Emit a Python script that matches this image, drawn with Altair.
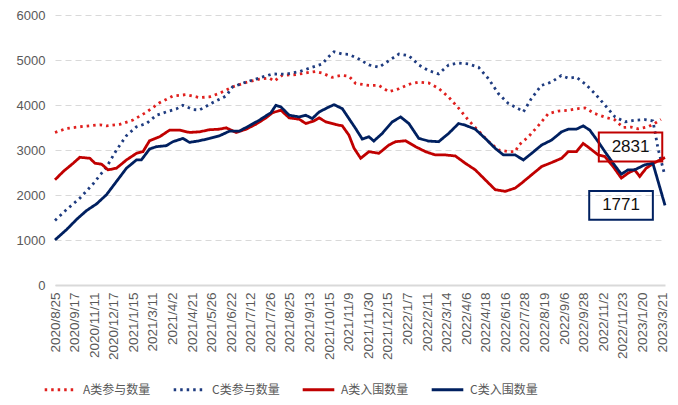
import altair as alt
import pandas as pd

# x-axis category labels (one every tick position)
labels = ["2020/8/25", "2020/9/17", "2020/11/11", "2020/12/17", "2021/1/15", "2021/3/11",
          "2021/4/2", "2021/4/21", "2021/5/26", "2021/6/22", "2021/7/12", "2021/7/26",
          "2021/8/25", "2021/9/13", "2021/10/15", "2021/11/9", "2021/11/30", "2021/12/15",
          "2022/1/7", "2022/2/11", "2022/3/14", "2022/4/6", "2022/4/18", "2022/6/16",
          "2022/7/28", "2022/8/19", "2022/9/6", "2022/9/28", "2022/11/2", "2022/11/23",
          "2023/1/20", "2023/3/21"]

series_names = ["A类参与数量", "C类参与数量", "A类入围数量", "C类入围数量"]

# positions are in category-label units (0 = 2020/8/25)
a_part_x = [0, 0.60, 1.44, 2.29, 2.63, 3.31, 3.98, 4.67, 5.34, 6.02, 6.70, 7.38, 7.89, 8.40,
            9.06, 9.76, 10.43, 10.94, 11.20, 11.60, 12.30, 12.98, 13.32, 13.64, 14.15, 14.66,
            15.01, 15.35, 16.03, 16.54, 17.05, 17.56, 18.07, 18.58, 19.08, 19.59, 20.10, 20.61,
            21.12, 21.63, 22.14, 22.65, 23.16, 23.51, 23.66, 24.17, 24.68, 25.19, 25.70, 26.21,
            26.72, 27.06, 27.57, 28.08, 28.59, 29.01, 29.41, 29.77, 30.28, 30.62, 30.94]
a_part_y = [3390, 3480, 3525, 3560, 3535, 3570, 3665, 3840, 4050, 4200, 4230, 4165, 4180, 4260,
            4400, 4500, 4575, 4600, 4530, 4660, 4675, 4725, 4745, 4710, 4615, 4660,
            4640, 4480, 4434, 4434, 4295, 4360, 4460, 4510, 4490, 4370, 4176, 3930,
            3660, 3420, 3190, 3000, 2965, 2965, 3100, 3290, 3540, 3809, 3865, 3882,
            3920, 3934, 3809, 3730, 3670, 3500, 3510, 3470, 3515, 3590, 3680]

c_part_x = [0, 0.60, 1.27, 1.95, 2.63, 3.14, 3.65, 4.16, 4.67, 5.18, 5.68, 6.19, 6.53, 7.04,
            7.38, 8.04, 8.74, 9.06, 9.76, 10.43, 11.11, 11.79, 12.47, 13.14, 13.64, 13.99,
            14.25, 14.66, 15.01, 15.52, 16.03, 16.54, 17.05, 17.56, 18.07, 18.58, 19.08, 19.59,
            20.10, 20.61, 21.12, 21.63, 22.14, 22.65, 23.16, 23.66, 23.92, 24.32, 24.83, 25.34,
            25.85, 26.21, 26.62, 27.07, 27.58, 28.09, 28.60, 29.11, 29.62, 30.13, 30.53, 30.64,
            30.79, 31.13]
c_part_y = [1435, 1680, 1930, 2250, 2620, 3000, 3320, 3515, 3590, 3772, 3846, 3910, 3993, 3900,
            3890, 4050, 4200, 4400, 4510, 4600, 4690, 4685, 4740, 4840, 4912, 5080,
            5184, 5132, 5125, 5022, 4890, 4838, 4985, 5132, 5096, 4890, 4765, 4691,
            4890, 4934, 4912, 4838, 4581, 4250, 4029, 3919, 3846, 4140, 4434, 4507,
            4654, 4596, 4618, 4471, 4250, 3993, 3735, 3625, 3662, 3676, 3647, 3404,
            3037, 2455]

a_entry_x = [0, 0.42, 0.93, 1.27, 1.78, 2.04, 2.38, 2.71, 3.14, 3.65, 4.16, 4.49, 4.83, 5.34,
             5.85, 6.36, 6.87, 7.38, 7.89, 8.40, 8.74, 9.25, 9.76, 10.26, 10.77, 11.11, 11.54,
             11.96, 12.47, 12.81, 13.23, 13.49, 13.83, 14.34, 14.67, 15.01, 15.27, 15.61, 16.03,
             16.54, 17.05, 17.39, 17.90, 18.41, 18.92, 19.42, 19.93, 20.44, 20.95, 21.46, 21.97,
             22.48, 22.99, 23.50, 23.83, 24.34, 24.85, 25.36, 25.87, 26.21, 26.63, 26.97, 27.31,
             27.74, 28.08, 28.50, 28.92, 29.26, 29.60, 29.86, 30.19, 30.62, 31.15]
a_entry_y = [2338, 2522, 2706, 2838, 2816, 2706, 2684, 2559, 2596, 2779, 2926, 2963, 3206, 3294,
             3441, 3441, 3390, 3404, 3450, 3463, 3493, 3390, 3463, 3574, 3713, 3831, 3882,
             3713, 3684, 3588, 3647, 3713, 3625, 3566, 3537, 3330, 3040, 2816, 2963,
             2926, 3110, 3184, 3206, 3074, 2963, 2890, 2890, 2868, 2706, 2559, 2338,
             2118, 2081, 2154, 2265, 2449, 2632, 2721, 2816, 2963, 2963, 3147, 3037,
             2890, 2853, 2632, 2375, 2485, 2559, 2412, 2596, 2720, 2831]

c_entry_x = [0, 0.60, 1.10, 1.61, 2.12, 2.63, 3.14, 3.65, 4.16, 4.41, 4.83, 5.18, 5.68, 6.02,
             6.53, 6.87, 7.38, 7.89, 8.40, 8.91, 9.41, 9.92, 10.43, 11.03, 11.28, 11.54, 11.96,
             12.47, 12.81, 13.14, 13.49, 13.99, 14.25, 14.67, 15.01, 15.35, 15.69, 16.03, 16.28,
             16.71, 17.22, 17.65, 18.07, 18.58, 19.08, 19.59, 20.10, 20.61, 20.95, 21.46, 21.97,
             22.48, 22.90, 23.50, 23.92, 24.34, 24.85, 25.36, 25.87, 26.21, 26.63, 26.97, 27.31,
             27.74, 28.08, 28.50, 28.92, 29.26, 29.60, 30.11, 30.53, 31.15]
c_entry_y = [1000, 1235, 1456, 1654, 1801, 2007, 2301, 2596, 2779, 2779, 3022, 3074, 3096, 3184,
             3257, 3169, 3206, 3257, 3316, 3419, 3419, 3537, 3662, 3831, 3993, 3956, 3772,
             3735, 3772, 3699, 3846, 3956, 4007, 3919, 3699, 3478, 3243, 3294, 3199,
             3368, 3625, 3735, 3588, 3257, 3199, 3184, 3368, 3588, 3551, 3463, 3257,
             3037, 2890, 2890, 2779, 2926, 3110, 3221, 3404, 3463, 3463, 3537, 3441,
             3184, 2963, 2706, 2463, 2559, 2559, 2669, 2706, 1771]

y_ticks = [0, 1000, 2000, 3000, 4000, 5000, 6000]

# annotation boxes (data units)
ann_text = ["2831", "1771"]
ann_x1 = [27.77, 27.28]
ann_x2 = [31.01, 30.53]
ann_y1 = [2747, 1451]
ann_y2 = [3391, 2088]
ann_color = ["#C00000", "#002060"]

rows = []
for name, xs, ys in zip(series_names, [a_part_x, c_part_x, a_entry_x, c_entry_x],
                        [a_part_y, c_part_y, a_entry_y, c_entry_y]):
    for x, y in zip(xs, ys):
        rows.append({"idx": x, "value": y, "series": name})
df = pd.DataFrame(rows)

ann = pd.DataFrame({"text": ann_text, "x1": ann_x1, "x2": ann_x2,
                    "y1": ann_y1, "y2": ann_y2, "color": ann_color})

label_expr = "[" + ",".join("'%s'" % s for s in labels) + "][datum.value]"

xscale = alt.Scale(domain=[0, 31.15], nice=False, zero=False)
yscale = alt.Scale(domain=[0, 6000], nice=False)

x_axis = alt.Axis(values=list(range(len(labels))), labelExpr=label_expr, title=None,
                  labelAngle=270, labelFont="Liberation Sans", labelFontSize=13.5,
                  labelColor="#595959", labelPadding=7, labelFlush=False,
                  labelOverlap=False, labelBound=False, ticks=False, tickSize=0,
                  grid=False, domain=True, domainColor="#d9d9d9", domainWidth=2)
y_axis = alt.Axis(values=y_ticks, format="d", title=None,
                  labelFont="Liberation Sans", labelFontSize=13,
                  labelColor="#595959", labelPadding=10, ticks=False, tickSize=0,
                  domain=False, grid=True, gridColor="#d9d9d9", gridDash=[6, 4],
                  gridWidth=1)

color_scale = alt.Scale(domain=series_names,
                        range=["#E0201E", "#1F3C80", "#C00000", "#002060"])
dash_scale = alt.Scale(domain=series_names,
                       range=[[2.5, 4], [2.5, 4], [1, 0], [1, 0]])

legend = alt.Legend(title=None, orient="none", legendX=-12, legendY=357,
                    direction="horizontal", symbolType="stroke", symbolSize=1000,
                    symbolStrokeWidth=3, labelFont="Noto Sans CJK SC", labelFontSize=12,
                    labelColor="#595959", labelOffset=5, columnPadding=16, padding=0)

lines = alt.Chart(df).mark_line(strokeWidth=2.8).encode(
    x=alt.X("idx:Q", scale=xscale, axis=x_axis, title=None),
    y=alt.Y("value:Q", scale=yscale, axis=y_axis, title=None),
    color=alt.Color("series:N", scale=color_scale, legend=legend, sort=series_names),
    strokeDash=alt.StrokeDash("series:N", scale=dash_scale, legend=legend, sort=series_names),
    order=alt.Order("idx:Q"),
)

boxes = alt.Chart(ann).mark_rect(fillOpacity=0, strokeWidth=2).encode(
    x=alt.X("x1:Q", scale=xscale, axis=x_axis, title=None), x2="x2:Q",
    y=alt.Y("y1:Q", scale=yscale, axis=y_axis, title=None), y2="y2:Q",
    stroke=alt.Stroke("color:N", scale=None),
)

texts = alt.Chart(ann).transform_calculate(
    cx="(datum.x1 + datum.x2) / 2", cy="(datum.y1 + datum.y2) / 2"
).mark_text(font="Liberation Sans", fontSize=17, color="#111111",
            align="center", baseline="middle").encode(
    x=alt.X("cx:Q", scale=xscale, axis=x_axis, title=None),
    y=alt.Y("cy:Q", scale=yscale, axis=y_axis, title=None),
    text="text:N",
)

chart = alt.layer(lines, boxes, texts).properties(
    width=610, height=270,
    padding={"left": 47, "top": 7, "right": 5, "bottom": 112},
    autosize=alt.AutoSizeParams(type="none"),
).configure_view(stroke=None)

chart.save("out.html", embed_options={"renderer": "svg", "actions": False})
